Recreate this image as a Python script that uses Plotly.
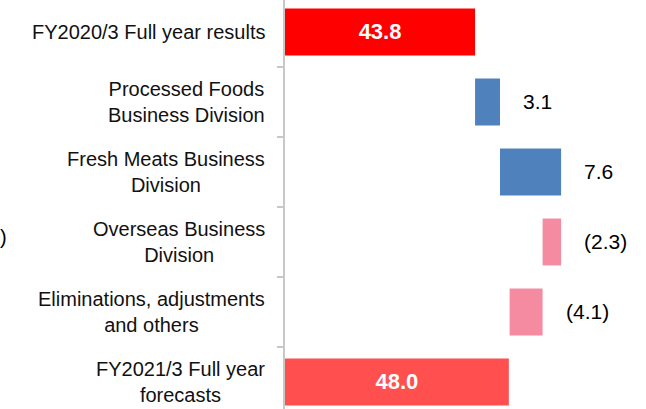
import plotly.graph_objects as go

categories = [
    "FY2020/3 Full year results",
    "Processed Foods<br>Business Division",
    "Fresh Meats Business<br>Division",
    "Overseas Business<br>Division",
    "Eliminations, adjustments<br>and others",
    "FY2021/3 Full year<br>forecasts",
]
start_value = 43.8
deltas = [3.1, 7.6, -2.3, -4.1]
end_value = 48.0
labels = ["43.8", "3.1", "7.6", "(2.3)", "(4.1)", "48.0"]
colors = ["#FF0000", "#4F81BD", "#4F81BD", "#F48BA1", "#F48BA1", "#FF4F4F"]
axis_min, axis_max = 20.16, 65.06

# build waterfall geometry from the data
bases, lengths, ends = [], [], []
bases.append(axis_min); lengths.append(start_value - axis_min); ends.append(start_value)
run = start_value
for d in deltas:
    new = run + d
    lo, hi = min(run, new), max(run, new)
    bases.append(lo); lengths.append(hi - lo); ends.append(hi)
    run = new
bases.append(axis_min); lengths.append(end_value - axis_min); ends.append(end_value)

is_total = [True] + [False] * len(deltas) + [True]
ypos = list(range(len(categories)))
FONT = "Arial, Liberation Sans, sans-serif"

fig = go.Figure()
fig.add_trace(go.Bar(
    y=ypos, x=lengths, base=bases, orientation="h",
    marker=dict(color=colors, line=dict(width=0)),
    text=[l if t else "" for l, t in zip(labels, is_total)],
    textposition="inside", insidetextanchor="middle",
    textfont=dict(family=FONT, size=22, color="white", weight="bold"),
    constraintext="none",
    hoverinfo="skip",
))

annotations = []
for i, (lab, t) in enumerate(zip(labels, is_total)):
    if not t:
        annotations.append(dict(
            x=ends[i], y=i, xref="x", yref="y", text=lab, showarrow=False,
            xanchor="left", yanchor="middle", xshift=21,
            font=dict(family=FONT, size=21, color="black"),
        ))
for i, c in enumerate(categories):
    annotations.append(dict(
        x=0, y=i, xref="paper", yref="y", text=c, showarrow=False,
        xanchor="right", yanchor="middle", xshift=-18, align="center",
        font=dict(family=FONT, size=20, color="#111111"),
    ))
# closing bracket of the unit label at the left edge
annotations.append(dict(
    x=-285 / 361, y=1 - 237 / 409, xref="paper", yref="paper",
    yanchor="middle", xanchor="left", xshift=-2,
    text=")", showarrow=False,
    font=dict(family=FONT, size=20, color="black"),
))

fig.update_layout(
    width=646, height=409,
    margin=dict(l=285, r=0, t=0, b=0),
    paper_bgcolor="white", plot_bgcolor="white",
    showlegend=False, bargap=0.33,
    annotations=annotations,
    xaxis=dict(range=[axis_min, axis_max], visible=False, showgrid=False, zeroline=False),
    yaxis=dict(
        type="linear", range=[5.386, -0.457], showgrid=False, zeroline=False,
        showline=True, linecolor="#C8C8C8", linewidth=2,
        tickmode="array", tickvals=[i + 0.5 for i in ypos[:-1]], ticktext=[""] * 5,
        ticks="outside", ticklen=6, tickcolor="#C8C8C8", tickwidth=2,
        showticklabels=False,
    ),
)

fig.write_html("out.html")
